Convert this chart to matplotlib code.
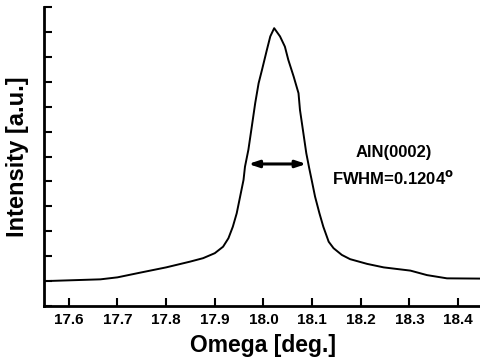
import matplotlib
matplotlib.use("Agg")
import matplotlib.pyplot as plt
import numpy as np

plt.rcParams['font.family'] = ['Liberation Sans', 'DejaVu Sans']

omega = [17.552, 17.665, 17.700, 17.747, 17.800, 17.849, 17.876, 17.900, 17.917, 17.928,
         17.937, 17.945, 17.952, 17.959, 17.962, 17.969, 17.976, 17.983, 17.990, 17.997,
         18.007, 18.014, 18.022, 18.034, 18.044, 18.051, 18.062, 18.072, 18.075, 18.081,
         18.088, 18.094, 18.099, 18.106, 18.115, 18.123, 18.134, 18.144, 18.161, 18.178,
         18.213, 18.247, 18.302, 18.336, 18.377, 18.446]
intensity = [1.00, 1.07, 1.15, 1.34, 1.55, 1.78, 1.92, 2.12, 2.38, 2.72,
             3.18, 3.72, 4.39, 5.06, 5.59, 6.27, 7.20, 8.14, 8.94, 9.48,
             10.28, 10.82, 11.15, 10.82, 10.41, 9.88, 9.21, 8.54, 7.87, 7.07,
             6.13, 5.53, 5.06, 4.39, 3.72, 3.18, 2.58, 2.32, 2.05, 1.88,
             1.69, 1.55, 1.42, 1.24, 1.11, 1.10]
xticks = [17.6, 17.7, 17.8, 17.9, 18.0, 18.1, 18.2, 18.3, 18.4]
fwhm_left, fwhm_right, fwhm_y = 17.969, 18.088, 5.7

fig = plt.figure(figsize=(4.81, 3.64), dpi=100)
ax = fig.add_axes([44/481, 58/364, 1 - 44/481, 299/364])
ax.plot(omega, intensity, color='black', lw=1.4)
ax.set_xlim(17.549, 18.447)
ax.set_ylim(0, 12)
ax.set_xticks(xticks)
ax.set_xticklabels([f"{t:.1f}" for t in xticks], fontsize=11, fontweight='bold')
ax.set_yticks(np.arange(0, 13, 1))
ax.set_yticklabels([])
ax.tick_params(direction='in', length=6, width=1.5, pad=5)
ax.spines['top'].set_visible(False)
ax.spines['right'].set_visible(False)
ax.spines['left'].set_linewidth(2)
ax.spines['bottom'].set_linewidth(2)
ax.set_xlabel('Omega [deg.]', fontsize=16.5, fontweight='bold', labelpad=5)
ax.set_ylabel('Intensity [a.u.]', fontsize=17, fontweight='bold', labelpad=6)
ax.annotate('', xy=(fwhm_left, fwhm_y), xytext=(fwhm_right, fwhm_y),
            arrowprops=dict(arrowstyle='<|-|>,head_length=0.6,head_width=0.2',
                            color='black', lw=2.2, shrinkA=0, shrinkB=0))
ax.text(18.267, 6.18, 'AlN(0002)', fontsize=12, fontweight='bold', ha='center', va='center')
ax.text(18.267, 5.15, 'FWHM=0.1204$^{\\mathbf{o}}$', fontsize=12, fontweight='bold', ha='center', va='center')
fig.savefig('out.png', dpi=100)
